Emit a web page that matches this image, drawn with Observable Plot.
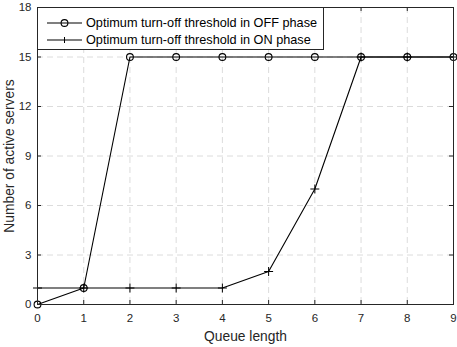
<!DOCTYPE html>
<html><head>
<meta charset="utf-8">
<script src="https://cdn.jsdelivr.net/npm/d3@7"></script>
<script src="https://cdn.jsdelivr.net/npm/@observablehq/plot@0.6"></script>
<style>
body{margin:0;background:#fff;}
#wrap{position:relative;width:457px;height:347px;font-family:"Liberation Sans",Arial,Helvetica,sans-serif;}
#legend{position:absolute;left:37px;top:7px;width:287px;height:43px;box-sizing:border-box;border:1px solid #262626;background:#fff;font-size:12.7px;color:#000;}
.row{position:absolute;left:0;height:16px;display:flex;align-items:center;}
.row svg{display:block;}
.row span{margin-left:2px;white-space:nowrap;}
</style>
</head><body><div id="wrap"><div id="legend"></div></div>
<script>
const queueLength = [0, 1, 2, 3, 4, 5, 6, 7, 8, 9];
const offPhase = [0, 1, 15, 15, 15, 15, 15, 15, 15, 15];
const onPhase = [1, 1, 1, 1, 1, 2, 7, 15, 15, 15];
const xTicks = [0, 1, 2, 3, 4, 5, 6, 7, 8, 9];
const yTicks = [0, 3, 6, 9, 12, 15, 18];
const seriesNames = ["Optimum turn-off threshold in OFF phase", "Optimum turn-off threshold in ON phase"];
const xLabel = "Queue length";
const yLabel = "Number of active servers";

const offData = queueLength.map((x, i) => ({x, y: offPhase[i]}));
const onData = queueLength.map((x, i) => ({x, y: onPhase[i]}));

const W = 457, H = 347, mL = 37, mR = 4, mT = 7, mB = 43;
const plotW = W - mL - mR, plotH = H - mT - mB;
const axisColor = "#262626";
const gridStyle = {stroke: "#dcdcdc", strokeOpacity: 1, strokeDasharray: "6,4", strokeWidth: 1};

const chart = Plot.plot({
  width: W, height: H,
  marginLeft: mL, marginRight: mR, marginTop: mT, marginBottom: mB,
  style: {fontFamily: '"Liberation Sans", Arial, sans-serif', color: axisColor, background: "#fff"},
  x: {domain: [0, 9]},
  y: {domain: [0, 18]},
  marks: [
    Plot.gridX(xTicks, gridStyle),
    Plot.gridY(yTicks, gridStyle),
    Plot.axisX(xTicks, {tickSize: 0, tickPadding: 9, fontSize: 11.5, label: xLabel, labelAnchor: "center", labelOffset: 36, labelArrow: "none", color: axisColor}),
    Plot.axisY(yTicks, {tickSize: 0, tickPadding: 6, fontSize: 11.5, label: yLabel, labelAnchor: "center", labelOffset: 33, labelArrow: "none", color: axisColor}),
    Plot.line(offData, {x: "x", y: "y", stroke: "#000", strokeWidth: 1.1}),
    Plot.dot(offData, {x: "x", y: "y", r: 3.4, stroke: "#000", fill: "none", strokeWidth: 1.1}),
    Plot.line(onData, {x: "x", y: "y", stroke: "#000", strokeWidth: 1.1}),
    Plot.dot(onData, {x: "x", y: "y", symbol: "plus", r: 3, stroke: "#000", strokeWidth: 1}),
    Plot.tickX(xTicks, {x: d => d, stroke: axisColor, insetTop: plotH - 4}),
    Plot.tickX(xTicks, {x: d => d, stroke: axisColor, insetBottom: plotH - 4}),
    Plot.tickY(yTicks, {y: d => d, stroke: axisColor, insetRight: plotW - 4}),
    Plot.tickY(yTicks, {y: d => d, stroke: axisColor, insetLeft: plotW - 4}),
    Plot.frame({stroke: axisColor, strokeWidth: 1})
  ]
});
const wrap = document.getElementById("wrap");
wrap.insertBefore(chart, wrap.firstChild);

// axis label font sizes
chart.querySelectorAll('[aria-label="x-axis label"] text, [aria-label="y-axis label"] text').forEach(t => t.setAttribute("font-size", "13.8"));

// legend
const legend = document.getElementById("legend");
const symbols = ["circle", "plus"];
seriesNames.forEach((name, i) => {
  const row = document.createElement("div");
  row.className = "row";
  row.style.top = (i === 0 ? 6.5 : 23.5) + "px";
  const svg = d3.create("svg").attr("width", 46).attr("height", 16);
  svg.append("line").attr("x1", 9).attr("x2", 44).attr("y1", 8).attr("y2", 8).attr("stroke", "#000").attr("stroke-width", 1.1);
  if (symbols[i] === "circle") {
    svg.append("circle").attr("cx", 26.5).attr("cy", 8).attr("r", 3.4).attr("fill", "none").attr("stroke", "#000").attr("stroke-width", 1.1);
  } else {
    svg.append("path").attr("d", "M26.5,5V11").attr("stroke", "#000").attr("stroke-width", 1);
  }
  row.appendChild(svg.node());
  const span = document.createElement("span");
  span.textContent = name;
  row.appendChild(span);
  legend.appendChild(row);
});
</script>
</body></html>
